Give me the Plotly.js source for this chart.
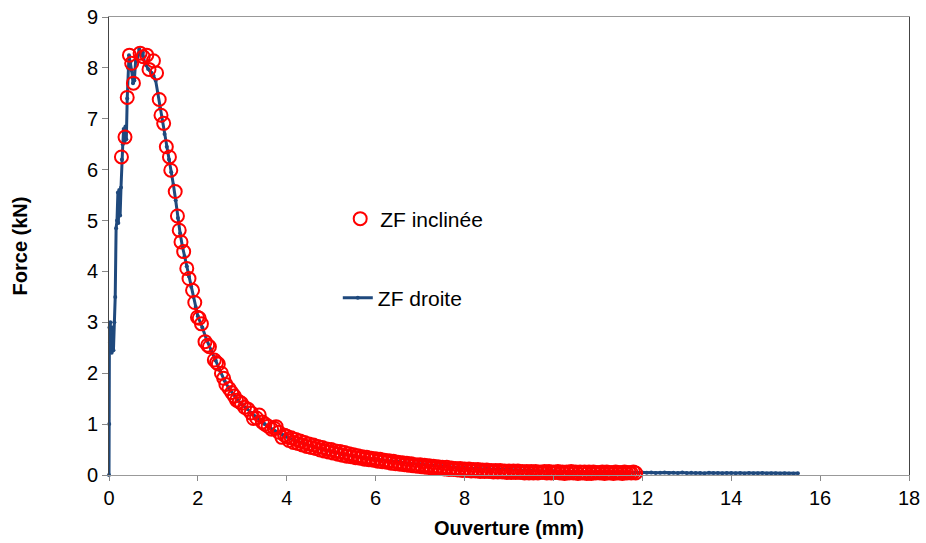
<!DOCTYPE html>
<html>
<head>
<meta charset="utf-8">
<script src="https://cdn.plot.ly/plotly-3.0.1.min.js"></script>
<style>html,body{margin:0;padding:0;background:#fff;}#chart{width:926px;height:543px;}</style>
</head>
<body>
<div id="chart"></div>
<script>
// ZF droite (blue line)
const droiteX = [0,0.005,0.01,0.02,0.03,0.04,0.05,0.06,0.08,0.10,0.12,0.14,0.16,0.18,0.20,0.21,0.23,0.25,0.27,0.29,0.31,0.33,0.35,0.37,0.39,0.41,0.43,0.45,0.48,0.51,0.54,0.57,0.60,0.64,0.68,0.72,0.76,0.80,0.84,0.88,0.92,0.96,1.00,1.05,1.10,1.15,1.20,1.25,1.30,1.35,1.40,1.45,1.50,1.55,1.60,1.65,1.70,1.75,1.80,1.85,1.90,1.95,2.00,2.10,2.20,2.30,2.40,2.50,2.60,2.70,2.80,2.90,3.00,3.10,3.20,3.30,3.40,3.50,3.60,3.70,3.80,3.90,4.00,4.20,4.40,4.60,4.80,5.00,5.25,5.50,5.75,6.00,6.25,6.50,6.75,7.00,7.25,7.50,7.75,8.00,8.25,8.50,8.75,9.00,9.25,9.50,9.75,10.00,10.25,10.50,10.75,11.00,11.25,11.50,11.75,12.0,12.1,12.2,12.3,12.4,12.5,12.6,12.7,12.8,12.9,13.0,13.1,13.2,13.3,13.4,13.5,13.6,13.7,13.8,13.9,14.0,14.1,14.2,14.3,14.4,14.5,14.6,14.7,14.8,14.9,15.0,15.1,15.2,15.3,15.4,15.5];
const droiteY = [0,1.0,2.9,2.6,3.0,2.5,2.8,2.4,2.9,2.45,3.0,3.5,4.85,5.0,5.55,4.95,5.6,5.1,5.65,6.2,6.5,6.8,6.55,6.85,6.6,7.4,8.0,8.25,8.1,7.95,7.7,7.75,8.15,8.2,8.37,8.25,8.3,8.1,8.05,7.98,7.95,7.9,7.85,7.75,7.5,7.2,6.95,6.7,6.45,6.2,5.95,5.7,5.4,5.05,4.75,4.5,4.3,4.1,3.9,3.7,3.5,3.3,3.12,2.9,2.65,2.45,2.25,2.05,1.85,1.7,1.58,1.47,1.38,1.3,1.22,1.14,1.07,1.0,0.94,0.89,0.83,0.79,0.75,0.67,0.61,0.55,0.50,0.46,0.41,0.37,0.34,0.31,0.28,0.26,0.23,0.21,0.19,0.17,0.15,0.14,0.13,0.12,0.11,0.10,0.09,0.085,0.08,0.075,0.07,0.065,0.06,0.06,0.055,0.05,0.05,0.05,0.045,0.05,0.04,0.045,0.05,0.04,0.045,0.04,0.05,0.04,0.045,0.04,0.04,0.035,0.045,0.04,0.04,0.035,0.04,0.04,0.035,0.04,0.03,0.04,0.035,0.035,0.04,0.03,0.035,0.035,0.03,0.035,0.03,0.03,0.035,0.03];

// ZF inclinée (red open circles)
const inclineeX = [0.28,0.36,0.41,0.46,0.51,0.55,0.70,0.77,0.85,0.90,1.00,1.07,1.13,1.17,1.23,1.29,1.36,1.39,1.49,1.54,1.58,1.62,1.68,1.75,1.80,1.88,1.93,1.99,2.03,2.08,2.16,2.22,2.26,2.37,2.42,2.46,2.53,2.58,2.63,2.70,2.76,2.82,2.87,2.93,2.98,3.05,3.13,3.20,3.25,3.32,3.38,3.45,3.51,3.58,3.66,3.72,3.76,3.82,3.89,3.95,
4.00,4.05,4.10,4.15,4.20,4.25,4.30,4.35,4.40,4.45,4.50,4.55,4.60,4.65,4.70,4.75,4.80,4.85,4.90,4.95,
5.00,5.05,5.10,5.15,5.20,5.25,5.30,5.35,5.40,5.45,5.50,5.55,5.60,5.65,5.70,5.75,5.80,5.85,5.90,5.95,
6.00,6.05,6.10,6.15,6.20,6.25,6.30,6.35,6.40,6.45,6.50,6.55,6.60,6.65,6.70,6.75,6.80,6.85,6.90,6.95,
7.00,7.05,7.10,7.15,7.20,7.25,7.30,7.35,7.40,7.45,7.50,7.55,7.60,7.65,7.70,7.75,7.80,7.85,7.90,7.95,
8.00,8.05,8.10,8.15,8.20,8.25,8.30,8.35,8.40,8.45,8.50,8.55,8.60,8.65,8.70,8.75,8.80,8.85,8.90,8.95,
9.00,9.05,9.10,9.15,9.20,9.25,9.30,9.35,9.40,9.45,9.50,9.55,9.60,9.65,9.70,9.75,9.80,9.85,9.90,9.95,
10.00,10.05,10.10,10.15,10.20,10.25,10.30,10.35,10.40,10.45,10.50,10.55,10.60,10.65,10.70,10.75,10.80,10.85,10.90,10.95,
11.00,11.05,11.10,11.15,11.20,11.25,11.30,11.35,11.40,11.45,11.50,11.55,11.60,11.65,11.70,11.75,11.80,11.85];
const inclineeY = [6.25,6.64,7.42,8.25,8.09,7.70,8.29,8.22,8.25,7.97,8.14,7.90,7.38,7.07,6.91,6.45,6.25,5.99,5.57,5.09,4.81,4.58,4.39,4.06,3.86,3.63,3.39,3.10,3.08,2.97,2.62,2.55,2.52,2.26,2.21,2.18,2.00,1.90,1.78,1.70,1.62,1.55,1.47,1.44,1.41,1.33,1.29,1.22,1.11,1.12,1.18,1.04,1.00,0.96,0.90,0.92,0.95,0.84,0.74,0.78,
0.76,0.68,0.73,0.64,0.70,0.62,0.67,0.59,0.64,0.56,0.61,0.54,0.59,0.52,0.56,0.49,0.54,0.47,0.51,0.45,
0.50,0.43,0.47,0.41,0.46,0.39,0.44,0.37,0.42,0.36,0.40,0.34,0.38,0.33,0.36,0.31,0.35,0.30,0.33,0.29,
0.32,0.27,0.31,0.26,0.29,0.25,0.28,0.23,0.27,0.22,0.25,0.21,0.24,0.20,0.23,0.19,0.22,0.18,0.20,0.17,
0.20,0.16,0.19,0.15,0.18,0.14,0.17,0.14,0.16,0.13,0.15,0.12,0.15,0.11,0.14,0.11,0.13,0.10,0.13,0.09,
0.12,0.09,0.12,0.08,0.11,0.08,0.11,0.07,0.10,0.07,0.10,0.07,0.09,0.06,0.09,0.06,0.09,0.06,0.08,0.05,
0.08,0.05,0.08,0.05,0.08,0.05,0.07,0.04,0.07,0.04,0.07,0.04,0.07,0.04,0.06,0.05,0.07,0.04,0.07,0.04,
0.06,0.05,0.07,0.04,0.06,0.03,0.06,0.04,0.07,0.04,0.06,0.03,0.06,0.04,0.06,0.03,0.06,0.03,0.06,0.04,
0.05,0.04,0.06,0.03,0.06,0.04,0.05,0.03,0.06,0.04,0.05,0.03,0.06,0.04,0.05,0.04,0.06,0.04];

const xTicks = [0,2,4,6,8,10,12,14,16,18];
const yTicks = [0,1,2,3,4,5,6,7,8,9];

const FONT = 'Liberation Sans, Arial, sans-serif';
const BLUE = '#1f497d';
const RED = '#ff0000';

const traces = [
  {
    x: droiteX, y: droiteY, type: 'scatter', mode: 'lines+markers', name: 'ZF droite',
    line: {color: BLUE, width: 3},
    marker: {color: BLUE, size: 4, symbol: 'circle'},
    legend: 'legend2', cliponaxis: false
  },
  {
    x: inclineeX, y: inclineeY, type: 'scatter', mode: 'markers', name: 'ZF inclinée',
    marker: {symbol: 'circle-open', size: 13, color: RED, line: {color: RED, width: 2}},
    legend: 'legend', cliponaxis: false
  }
];

const layout = {
  width: 926, height: 543,
  margin: {l: 109, r: 17, t: 17, b: 68},
  paper_bgcolor: '#fff', plot_bgcolor: '#fff',
  font: {family: FONT, color: '#000'},
  showlegend: true,
  xaxis: {
    range: [0, 18], tickvals: xTicks, ticktext: xTicks.map(String),
    ticks: 'outside', ticklen: 5, tickcolor: '#888',
    showline: true, linecolor: '#999', linewidth: 1, mirror: true,
    showgrid: false, zeroline: false,
    tickfont: {family: FONT, size: 20, color: '#000'},
    title: {text: '<b>Ouverture (mm)</b>', font: {family: FONT, size: 20, color: '#000'}, standoff: 12}
  },
  yaxis: {
    range: [0, 9], tickvals: yTicks, ticktext: yTicks.map(String),
    ticks: 'outside', ticklen: 6, tickcolor: '#888',
    showline: true, linecolor: '#444', linewidth: 1, mirror: true,
    showgrid: false, zeroline: false,
    tickfont: {family: FONT, size: 20, color: '#000'},
    title: {text: '<b>Force (kN)</b>', font: {family: FONT, size: 20, color: '#000'}, standoff: 53}
  },
  legend: {x: 0.289, y: 0.559, xanchor: 'left', yanchor: 'middle', bgcolor: 'rgba(0,0,0,0)', font: {family: FONT, size: 21, color: '#000'}},
  legend2: {x: 0.286, y: 0.386, xanchor: 'left', yanchor: 'middle', bgcolor: 'rgba(0,0,0,0)', font: {family: FONT, size: 21, color: '#000'}}
};

Plotly.newPlot('chart', traces, layout, {displayModeBar: false, staticPlot: true});
</script>
</body>
</html>
